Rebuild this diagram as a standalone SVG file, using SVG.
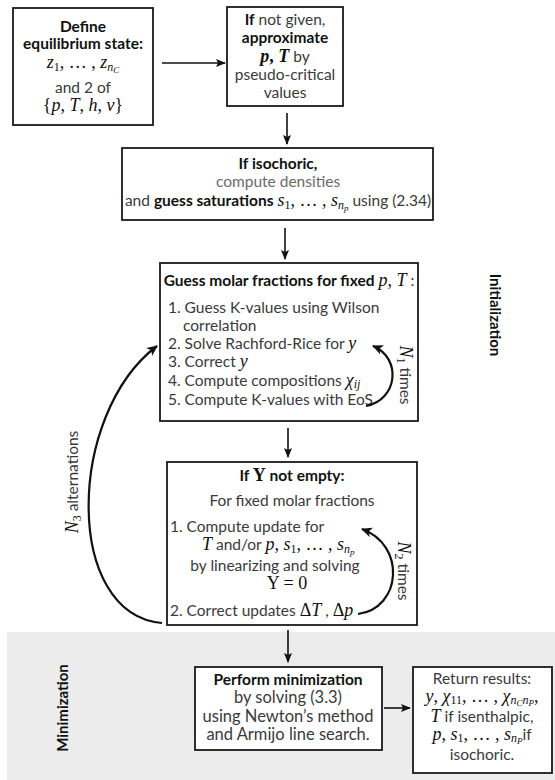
<svg xmlns="http://www.w3.org/2000/svg" width="555" height="780" viewBox="0 0 555 780">
<style>
.box{fill:#fff;stroke:#1a1a1a;stroke-width:1.8}
text{font-family:Lato,"Open Sans","Liberation Sans",sans-serif;font-size:15.5px;fill:#3a3a3a}
.c{text-anchor:middle}
.b{font-weight:bold;fill:#111}
.g{fill:#6a6a6a}
.m{font-family:"Liberation Serif","DejaVu Serif",serif;font-style:italic;fill:#111;font-size:18px}
.mu{font-family:"Liberation Serif","DejaVu Serif",serif;font-style:normal;fill:#111;font-size:18px}
.s{font-size:12px}
.ss{font-size:9px}
.lbl{font-weight:bold;fill:#111;font-size:15px}
.big{font-size:16.5px}
.line{fill:none;stroke:#111;stroke-width:1.6}
.curve{fill:none;stroke:#111;stroke-width:2.2}
</style>
<defs>
<marker id="ah" viewBox="0 0 10 8" refX="9" refY="4" markerWidth="10" markerHeight="8" markerUnits="userSpaceOnUse" orient="auto">
<path d="M0,0 L10,4 L0,8 L2,4 z" fill="#111"/>
</marker>
<marker id="ahc" viewBox="0 0 12 10" refX="10" refY="5" markerWidth="12" markerHeight="10" markerUnits="userSpaceOnUse" orient="auto">
<path d="M0,0 L11,5 L0,10 L3,5 z" fill="#111"/>
</marker>
</defs>

<rect x="7" y="632" width="548" height="148" fill="#ececec"/>

<g id="define">
<rect class="box" x="13" y="8" width="140" height="117"/>
<text x="83" y="32" class="c b" font-size="17">Define</text>
<text x="83" y="49" class="c b" font-size="17">equilibrium state:</text>
<text x="83" y="68" class="c m">z<tspan class="s mu" dy="3">1</tspan><tspan class="mu" dy="-3">, … , </tspan>z<tspan class="s" dy="3">n</tspan><tspan class="ss" dy="2">C</tspan></text>
<text x="83" y="93" class="c" font-size="16.5">and 2 of</text>
<text x="83" y="111" class="c mu">{<tspan class="m">p</tspan>, <tspan class="m">T</tspan>, <tspan class="m">h</tspan>, <tspan class="m">v</tspan>}</text>
</g>

<g id="approximate">
<rect class="box" x="227" y="7" width="116" height="99"/>
<text x="285" y="25" class="c" font-size="16"><tspan class="b">If</tspan> not given,</text>
<text x="285" y="43" class="c b" font-size="16">approximate</text>
<text x="285" y="62" class="c" font-size="16"><tspan class="m" font-weight="bold">p</tspan><tspan class="mu" font-weight="bold">, </tspan><tspan class="m" font-weight="bold">T</tspan> by</text>
<text x="285" y="80" class="c" font-size="16">pseudo-critical</text>
<text x="285" y="98" class="c" font-size="16">values</text>
</g>

<g id="isochoric">
<rect class="box" x="122" y="148" width="311" height="72"/>
<text x="278" y="169" class="c b">If isochoric,</text>
<text x="278" y="187" class="c g">compute densities</text>
<text x="278" y="206" class="c">and <tspan class="b">guess saturations</tspan> <tspan class="m">s</tspan><tspan class="s mu" dy="3">1</tspan><tspan class="mu" dy="-3">, … , </tspan><tspan class="m">s</tspan><tspan class="s m" dy="3">n</tspan><tspan class="ss m" dy="2">p</tspan><tspan dy="-5">  using (2.34)</tspan></text>
</g>

<g id="guess">
<rect class="box" x="160" y="263" width="258" height="158"/>
<text x="289" y="286" class="c"><tspan class="b">Guess molar fractions for fixed</tspan> <tspan class="m">p</tspan><tspan class="mu">, </tspan><tspan class="m">T</tspan> :</text>
<text x="168" y="313">1. Guess K-values using Wilson</text>
<text x="183" y="331">correlation</text>
<text x="168" y="349">2. Solve Rachford-Rice for <tspan class="m">y</tspan></text>
<text x="168" y="367">3. Correct <tspan class="m">y</tspan></text>
<text x="168" y="386">4. Compute compositions <tspan class="m">χ</tspan><tspan class="s m" dy="2">ij</tspan></text>
<text x="168" y="405">5. Compute K-values with EoS</text>
</g>

<g id="update">
<rect class="box" x="167" y="462" width="250" height="163"/>
<text x="292" y="481" class="c b">If <tspan class="mu" font-weight="bold">Υ</tspan> not empty:</text>
<text x="292" y="506" class="c">For fixed molar fractions</text>
<text x="170" y="532">1. Compute update for</text>
<text x="202" y="550"><tspan class="m">T</tspan> and/or <tspan class="m">p</tspan><tspan class="mu">, </tspan><tspan class="m">s</tspan><tspan class="s mu" dy="3">1</tspan><tspan class="mu" dy="-3">, … , </tspan><tspan class="m">s</tspan><tspan class="s m" dy="3">n</tspan><tspan class="ss m" dy="2">p</tspan></text>
<text x="275" y="571" class="c">by linearizing  and solving</text>
<text x="287" y="589" class="c mu">Υ = 0</text>
<text x="170" y="616">2. Correct updates <tspan class="mu">Δ</tspan><tspan class="m">T</tspan> , <tspan class="mu">Δ</tspan><tspan class="m">p</tspan></text>
</g>

<g id="minimize">
<rect class="box" x="195" y="667" width="187" height="83"/>
<text x="288" y="685" class="c b" font-size="16.5">Perform minimization</text>
<text x="288" y="703" class="c big">by solving (3.3)</text>
<text x="288" y="722" class="c big">using Newton’s method</text>
<text x="288" y="740" class="c big">and Armijo line search.</text>
</g>

<g id="results">
<rect class="box" x="413" y="667" width="139" height="106"/>
<text x="482" y="684" class="c" font-size="16" fill="#111">Return results:</text>
<text x="482" y="702" class="c m">y<tspan class="mu">, </tspan>χ<tspan class="s mu" dy="2">11</tspan><tspan class="mu" dy="-2">, … , </tspan>χ<tspan class="s" dy="2">n</tspan><tspan class="ss" dy="2">C</tspan><tspan class="s" dy="-2">n</tspan><tspan class="ss" dy="2">P</tspan><tspan class="mu" dy="-4">,</tspan></text>
<text x="482" y="722" class="c" font-size="16"><tspan class="m">T</tspan> if isenthalpic,</text>
<text x="482" y="740" class="c" font-size="16"><tspan class="m">p</tspan><tspan class="mu">, </tspan><tspan class="m">s</tspan><tspan class="s mu" dy="2">1</tspan><tspan class="mu" dy="-2">, … , </tspan><tspan class="m">s</tspan><tspan class="s m" dy="2">n</tspan><tspan class="ss m" dy="2">P</tspan><tspan dy="-4">if</tspan></text>
<text x="482" y="760" class="c" font-size="16">isochoric.</text>
</g>

<g id="connectors">
<line class="line" x1="162" y1="63" x2="225" y2="63" marker-end="url(#ah)"/>
<line class="line" x1="287" y1="113" x2="287" y2="144" marker-end="url(#ah)"/>
<line class="line" x1="285" y1="228" x2="285" y2="259" marker-end="url(#ah)"/>
<line class="line" x1="288" y1="428" x2="288" y2="457" marker-end="url(#ah)"/>
<line class="line" x1="288" y1="630" x2="288" y2="662" marker-end="url(#ah)"/>
<line class="line" x1="384" y1="708" x2="410" y2="708" marker-end="url(#ah)"/>
<path class="curve" d="M 366 406 C 398 400, 402 358, 373 346" marker-end="url(#ahc)"/>
<path class="curve" d="M 358 614 C 402 608, 406 545, 362 529" marker-end="url(#ahc)"/>
<path class="curve" d="M 162 623 C 64 615, 66 415, 157 346" marker-end="url(#ahc)"/>
</g>

<g id="labels">
<text transform="translate(405,375) rotate(90)" class="c" y="5"><tspan class="m">N</tspan><tspan class="s mu" dy="3">1</tspan><tspan dy="-3"> times</tspan></text>
<text transform="translate(403,571) rotate(90)" class="c" y="5"><tspan class="m">N</tspan><tspan class="s mu" dy="3">2</tspan><tspan dy="-3"> times</tspan></text>
<text transform="translate(73,482) rotate(-90)" class="c" y="5"><tspan class="m">N</tspan><tspan class="s mu" dy="3">3</tspan><tspan dy="-3"> alternations</tspan></text>
<text transform="translate(495,315) rotate(90)" class="c lbl" y="5">Initialization</text>
<text transform="translate(63,708) rotate(-90)" class="c lbl" y="5">Minimization</text>
</g>
</svg>
